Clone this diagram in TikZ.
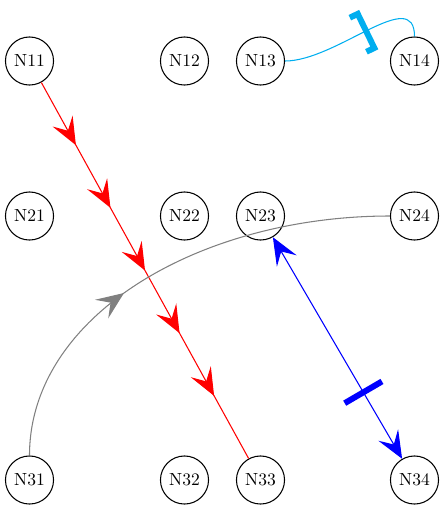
\documentclass[tikz,border=0pt]{standalone}
\usetikzlibrary{arrows.meta,decorations.markings}
\definecolor{skyc}{RGB}{0,174,239}
\tikzset{
  nd/.style={draw,circle,minimum size=27.4pt,inner sep=0pt,line width=0.6pt,font=\fontsize{10}{12}\selectfont},
  bigtip/.tip={Stealth[length=15.7pt,width=13pt,inset=6.3pt]},
  conn/.style={line width=0.6pt},
}
\begin{document}
\begin{tikzpicture}[x=0.57pt,y=-0.57pt]
\useasboundingbox (0,0) rectangle (440,506);
\node[nd] (N11) at (29.5,61) {N11};
\node[nd] (N12) at (184.5,61) {N12};
\node[nd] (N13) at (260.5,61) {N13};
\node[nd] (N14) at (414.5,61) {N14};
\node[nd] (N21) at (29.5,216) {N21};
\node[nd] (N22) at (184.5,216) {N22};
\node[nd] (N23) at (260.5,216) {N23};
\node[nd] (N24) at (414.5,216) {N24};
\node[nd] (N31) at (29.5,480) {N31};
\node[nd] (N32) at (184.5,480) {N32};
\node[nd] (N33) at (260.5,480) {N33};
\node[nd] (N34) at (414.5,480) {N34};
% red
\draw[conn,red,decoration={markings,
  mark=at position 0.16667 with {\arrow{bigtip}},
  mark=at position 0.33333 with {\arrow{bigtip}},
  mark=at position 0.5 with {\arrow{bigtip}},
  mark=at position 0.66667 with {\arrow{bigtip}},
  mark=at position 0.83333 with {\arrow{bigtip}}},postaction={decorate}]
  (N11) -- (N33);
% gray
\draw[conn,gray,decoration={markings,mark=at position 0.41 with {\arrow{bigtip}}},postaction={decorate}]
  (N31.north) .. controls +(0,-140) and +(-190,0) .. (N24.west);
% blue
\draw[conn,blue,{bigtip}-{bigtip},decoration={markings,mark=at position 0.7 with {\draw[-,line width=3.4pt] (0,-12.3pt) -- (0,12.3pt);}},postaction={decorate}]
  (N23) -- (N34);
% cyan
\draw[conn,skyc,decoration={markings,mark=at position 0.6 with {\arrow{Bracket[width=25pt,length=5pt,line width=3.4pt]}}},postaction={decorate}]
  (N13) to[out=0,in=90] (N14);
\end{tikzpicture}
\end{document}
